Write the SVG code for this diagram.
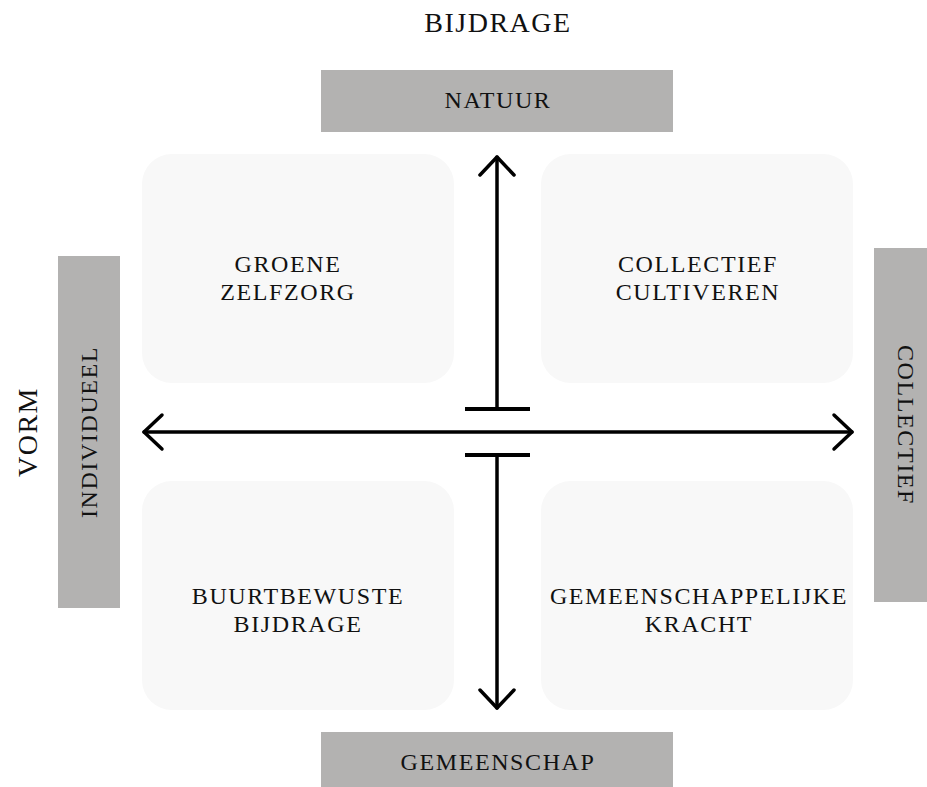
<svg xmlns="http://www.w3.org/2000/svg" width="927" height="787" viewBox="0 0 927 787">
<style>
  text { font-family: "Liberation Serif", "Times New Roman", serif; fill: #111111; text-anchor: middle; }
  .axis { font-size: 28px; letter-spacing: 1.5px; }
  .lbl { font-size: 24px; letter-spacing: 1.6px; }
  .pole { fill: #b3b2b1; }
  .quad { fill: #f8f8f8; }
  .ln { stroke: #000; stroke-width: 3.5; fill: none; stroke-linecap: round; stroke-linejoin: round; }
  .bar { stroke: #000; stroke-width: 4; fill: none; }
</style>
<rect width="927" height="787" fill="#ffffff"/>

<text class="axis" x="498" y="32">BIJDRAGE</text>
<text class="axis" transform="translate(37,432) rotate(-90)">VORM</text>

<g id="natuur">
  <rect class="pole" x="321" y="70" width="352" height="62"/>
  <text class="lbl" x="498" y="108">NATUUR</text>
</g>
<g id="gemeenschap">
  <rect class="pole" x="321" y="732" width="352" height="55"/>
  <text class="lbl" x="498" y="770">GEMEENSCHAP</text>
</g>
<g id="individueel">
  <rect class="pole" x="58" y="256" width="62" height="352"/>
  <text class="lbl" transform="translate(97,432) rotate(-90)">INDIVIDUEEL</text>
</g>
<g id="collectief">
  <rect class="pole" x="874" y="248" width="53" height="354"/>
  <text class="lbl" transform="translate(898,425) rotate(90)">COLLECTIEF</text>
</g>

<g id="groene-zelfzorg">
  <rect class="quad" x="142" y="154" width="312" height="229" rx="30"/>
  <text class="lbl" x="288" y="272">GROENE</text>
  <text class="lbl" x="288" y="300">ZELFZORG</text>
</g>
<g id="collectief-cultiveren">
  <rect class="quad" x="541" y="154" width="312" height="229" rx="30"/>
  <text class="lbl" x="698" y="272">COLLECTIEF</text>
  <text class="lbl" x="698" y="300">CULTIVEREN</text>
</g>
<g id="buurtbewuste-bijdrage">
  <rect class="quad" x="142" y="481" width="312" height="229" rx="30"/>
  <text class="lbl" x="298" y="604">BUURTBEWUSTE</text>
  <text class="lbl" x="298" y="632">BIJDRAGE</text>
</g>
<g id="gemeenschappelijke-kracht">
  <rect class="quad" x="541" y="481" width="312" height="229" rx="30"/>
  <text class="lbl" x="699" y="604">GEMEENSCHAPPELIJKE</text>
  <text class="lbl" x="699" y="632">KRACHT</text>
</g>

<g id="connectors">
  <path class="ln" d="M144 432 H852"/>
  <path class="ln" d="M162 415 L144 432 L162 449"/>
  <path class="ln" d="M834 415 L852 432 L834 449"/>
  <path class="ln" d="M497 157 V409"/>
  <path class="ln" d="M480 175 L497 157 L514 175"/>
  <path class="ln" d="M497 455 V708"/>
  <path class="ln" d="M480 690 L497 708 L514 690"/>
  <path class="bar" d="M465 409 H530"/>
  <path class="bar" d="M465 455 H530"/>
</g>
</svg>
